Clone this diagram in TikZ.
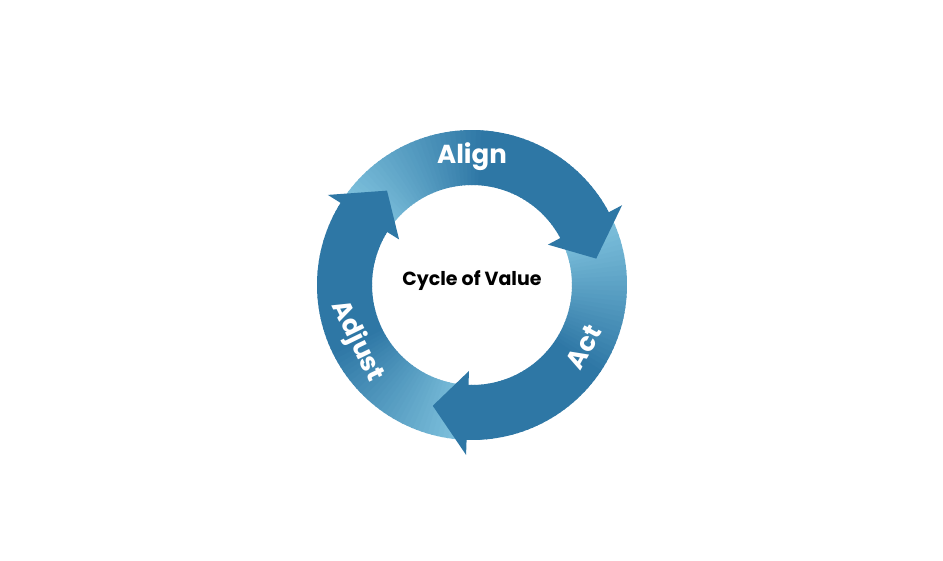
\documentclass[tikz,border=0pt]{standalone}
\usepackage{fontspec}
\setmainfont{Poppins}
\definecolor{lightb}{HTML}{7DC0DC}
\definecolor{darkb}{HTML}{2E77A5}
\newcommand\ringseg[3]{\fill[#3] (#1:155pt) arc[start angle=#1,end angle=#2,radius=155pt] -- (#2:100pt) arc[start angle=#2,end angle=#1,radius=100pt] -- cycle;}
\newcommand\cyclearrow[2]{%
  \pgfmathsetmacro\arcspn{#1-(#2)}
  \foreach \i in {0,...,59}{
    \pgfmathsetmacro\aa{#1-\i*\arcspn/60}
    \pgfmathsetmacro\bb{#1-(\i+1.3)*\arcspn/60}
    \pgfmathsetmacro\ff{min(100,\i*100/30)}
    \ringseg{\aa}{\bb}{darkb!\ff!lightb}
  }}
\newcommand\cyclehead[2]{\fill[darkb] (#1:86pt) -- (#1:170pt) -- (#2:127pt) -- cycle;}
\tikzset{lbl/.style={text=white,inner sep=0pt,font=\fontsize{26}{28}\selectfont\bfseries}}
\begin{document}
\begin{tikzpicture}
\useasboundingbox[fill=white] (-472pt,-275pt) rectangle (471pt,285pt);
\cyclearrow{145}{28}
\cyclearrow{25}{-92}
\cyclearrow{-95}{-212}
\cyclehead{28}{12}
\cyclehead{-92}{-108}
\cyclehead{-212}{-228}
\node[lbl] (align) at (90:128pt) {Align};
\node[lbl,rotate=61] (act) at (-29:128pt) {Act};
\node[lbl,rotate=-64] (adjust) at (-154:128pt) {Adjust};
\node[font=\fontsize{19}{21}\selectfont\bfseries] (center) at (0,4pt) {Cycle of Value};
\end{tikzpicture}
\end{document}
